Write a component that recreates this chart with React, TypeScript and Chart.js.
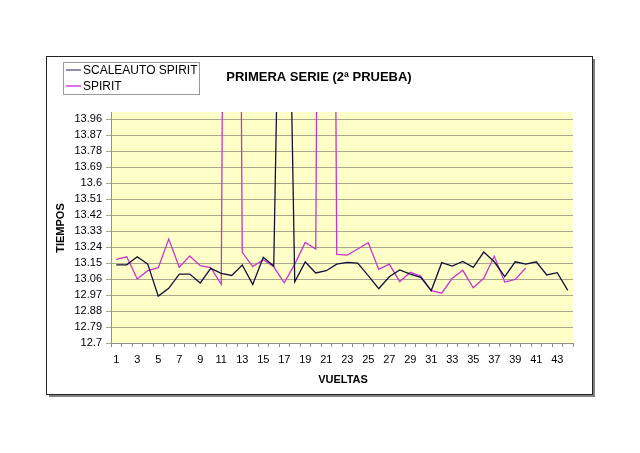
import React, { useEffect, useRef } from "react";
import { Chart, registerables } from "chart.js";

Chart.register(...registerables);

const laps: string[] = Array.from({ length: 44 }, (_, i) => String(i + 1));

const scaleautoSpirit: number[] = [
  13.14, 13.14, 13.185, 13.144, 12.964, 13.008, 13.088, 13.088, 13.038, 13.12,
  13.092, 13.08, 13.139, 13.03, 13.182, 13.133, 16.45, 13.045, 13.156, 13.094,
  13.107, 13.144, 13.154, 13.15, 13.079, 13.006, 13.073, 13.111, 13.088, 13.07,
  12.995, 13.152, 13.133, 13.159, 13.126, 13.212, 13.157, 13.073, 13.157, 13.144,
  13.157, 13.083, 13.096, 12.996,
];

const spirit: number[] = [
  13.17, 13.185, 13.06, 13.107, 13.124, 13.285, 13.126, 13.19, 13.135, 13.124,
  13.03, 23.0, 13.21, 13.13, 13.169, 13.129, 13.039, 13.144, 13.266, 13.229,
  23.0, 13.199, 13.195, 13.229, 13.264, 13.114, 13.144, 13.045, 13.098, 13.077,
  12.995, 12.98, 13.064, 13.109, 13.011, 13.064, 13.188, 13.043, 13.058, 13.122,
];

const yTickValues: number[] = [
  12.7, 12.79, 12.88, 12.97, 13.06, 13.15, 13.24, 13.33, 13.42, 13.51, 13.6,
  13.69, 13.78, 13.87, 13.96,
];

const seriesNames: string[] = ["SCALEAUTO SPIRIT", "SPIRIT"];
const seriesColors: string[] = ["#10103a", "#cc33cc"];
const legendColors: string[] = ["#6a6890", "#dd44dd"];

const FONT = "'Liberation Sans', Arial, sans-serif";

const decorPlugin = {
  id: "decor",
  beforeDraw(chart: any) {
    const { ctx, chartArea: a } = chart;
    ctx.save();
    ctx.fillStyle = "#ffffff";
    ctx.fillRect(0, 0, chart.width, chart.height);
    ctx.fillStyle = "#ffffc8";
    ctx.fillRect(a.left, a.top, a.right - a.left, a.bottom - a.top);
    ctx.restore();
  },
  afterDraw(chart: any) {
    const { ctx } = chart;
    ctx.save();
    // outer frame
    ctx.strokeStyle = "#222222";
    ctx.lineWidth = 1;
    ctx.strokeRect(46.5, 56.5, 546, 338);
    ctx.strokeStyle = "#808080";
    ctx.lineWidth = 2;
    ctx.beginPath();
    ctx.moveTo(594, 59);
    ctx.lineTo(594, 396);
    ctx.lineTo(49, 396);
    ctx.stroke();

    // legend box
    ctx.lineWidth = 1;
    ctx.strokeStyle = "#999999";
    ctx.strokeRect(63.5, 62.5, 136, 32);
    ctx.font = `12px ${FONT}`;
    ctx.textBaseline = "middle";
    ctx.textAlign = "left";
    const rows = [70, 86];
    seriesNames.forEach((name, i) => {
      ctx.strokeStyle = legendColors[i];
      ctx.lineWidth = 1.5;
      ctx.beginPath();
      ctx.moveTo(66, rows[i]);
      ctx.lineTo(81, rows[i]);
      ctx.stroke();
      ctx.fillStyle = "#000000";
      ctx.fillText(name, 83, rows[i] + 0.5);
    });

    // title
    ctx.font = `bold 13px ${FONT}`;
    ctx.textAlign = "center";
    ctx.fillStyle = "#000000";
    ctx.fillText("PRIMERA SERIE (2\u00aa PRUEBA)", 319, 77);

    // x axis title
    ctx.font = `bold 11px ${FONT}`;
    ctx.fillText("VUELTAS", 343, 380);

    // y axis title
    ctx.translate(61, 228);
    ctx.rotate(-Math.PI / 2);
    ctx.fillText("TIEMPOS", 0, 0);
    ctx.restore();
  },
};

export default function App() {
  const ref = useRef<HTMLCanvasElement | null>(null);

  useEffect(() => {
    if (!ref.current) return;
    const chart = new Chart(ref.current, {
      type: "line",
      data: {
        labels: laps,
        datasets: [
          {
            label: seriesNames[0],
            data: scaleautoSpirit,
            borderColor: seriesColors[0],
            borderWidth: 1.3,
            pointRadius: 0,
            tension: 0,
            fill: false,
          },
          {
            label: seriesNames[1],
            data: spirit,
            borderColor: seriesColors[1],
            borderWidth: 1.3,
            pointRadius: 0,
            tension: 0,
            fill: false,
          },
        ],
      },
      options: {
        animation: false,
        responsive: false,
        devicePixelRatio: 1,
        layout: { padding: { left: 0, top: 112, right: 67, bottom: 0 } },
        plugins: {
          legend: { display: false },
          title: { display: false },
          tooltip: { enabled: false },
        },
        scales: {
          x: {
            type: "category",
            offset: true,
            afterFit(scale: any) {
              scale.height = 110;
            },
            grid: {
              offset: true,
              drawOnChartArea: false,
              drawTicks: true,
              tickLength: 4,
              color: "#909090",
            },
            border: { display: true, color: "#909090" },
            ticks: {
              autoSkip: false,
              maxRotation: 0,
              minRotation: 0,
              padding: 6,
              color: "#000000",
              font: { family: FONT, size: 11 },
              callback: (_v: any, idx: number) => (idx % 2 === 0 ? laps[idx] : ""),
            },
          },
          y: {
            type: "linear",
            min: 12.7,
            max: 14.0,
            afterFit(scale: any) {
              scale.width = 111;
            },
            afterBuildTicks(scale: any) {
              scale.ticks = yTickValues.map((v) => ({ value: v }));
            },
            grid: {
              color: "#a8a890",
              lineWidth: 1,
              drawTicks: true,
              tickLength: 5,
            },
            border: { display: true, color: "#909090" },
            ticks: {
              padding: 4,
              color: "#000000",
              font: { family: FONT, size: 11 },
              callback: (v: any) => String(Number(Number(v).toFixed(2))),
            },
          },
        },
      },
      plugins: [decorPlugin],
    });
    return () => chart.destroy();
  }, []);

  return (
    <div style={{ position: "fixed", left: 0, top: 0, width: 640, height: 453 }}>
      <canvas ref={ref} width={640} height={453} style={{ width: 640, height: 453, display: "block" }} />
    </div>
  );
}
